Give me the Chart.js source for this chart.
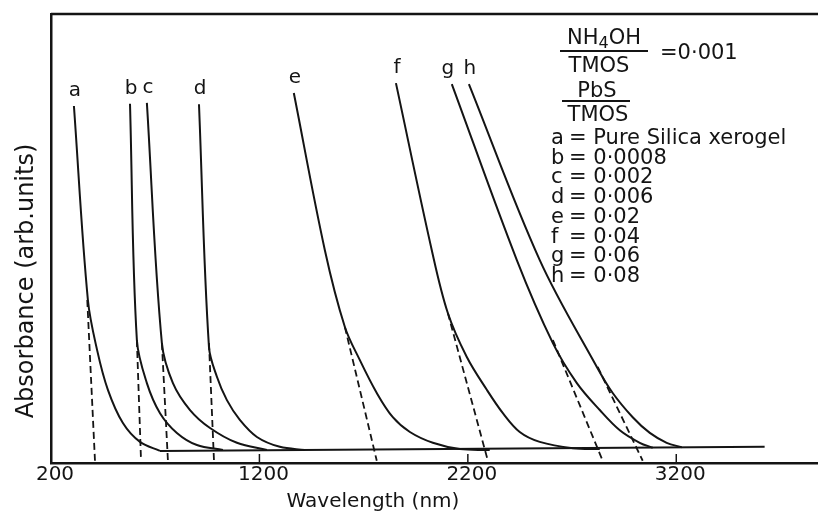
<!DOCTYPE html>
<html>
<head>
<meta charset="utf-8">
<title>Absorption edges of PbS doped silica xerogels</title>
<script src="https://cdn.jsdelivr.net/npm/chart.js@4.4.1/dist/chart.umd.min.js"></script>
<style>
  html, body { margin: 0; padding: 0; background: #fff; }
</style>
</head>
<body>
<canvas id="absChart" width="818" height="511"></canvas>
<script>
// absorption edges, each point is [wavelength nm, absorbance arb. units]
const curveNames = ['a', 'b', 'c', 'd', 'e', 'f', 'g', 'h'];
const pbsRatios = ['Pure Silica xerogel', '0·0008', '0·002', '0·006', '0·02', '0·04', '0·06', '0·08'];

const curveA = [[310, 79.5], [377, 36.3], [421, 25.2], [473, 16.3], [545, 8.9], [627, 4.7], [723, 2.7]];
const curveB = [[579, 80.0], [612, 27.4], [660, 17.8], [723, 11.1], [804, 6.7], [900, 4.0], [1025, 2.9]];
const curveC = [[660, 80.2], [732, 26.7], [785, 17.8], [867, 11.8], [963, 7.8], [1092, 4.5], [1236, 2.9]];
const curveD = [[910, 79.9], [958, 25.8], [996, 19.2], [1044, 14.0], [1106, 9.6], [1188, 5.8], [1298, 3.6], [1418, 2.9]];
const curveE = [[1365, 82.4], [1514, 47.4], [1610, 30.3], [1682, 22.9], [1763, 15.6], [1840, 10.2], [1922, 6.9], [2032, 4.5], [2162, 3.1], [2305, 2.9]];
const curveF = [[1855, 84.6], [2027, 47.4], [2104, 33.4], [2195, 23.6], [2291, 16.3], [2368, 11.1], [2449, 6.9], [2545, 4.7], [2704, 3.3], [2833, 3.1]];
const curveG = [[2123, 84.4], [2435, 45.2], [2608, 26.7], [2723, 17.8], [2833, 11.8], [2929, 7.3], [3025, 4.5], [3087, 3.4]];
const curveH = [[2205, 84.4], [2545, 45.2], [2819, 21.4], [2895, 15.6], [2991, 10.2], [3073, 6.7], [3154, 4.5], [3226, 3.5]];

// extrapolated straight part of each edge (dashed)
const tangentA = [[374, 36.3], [411, 0.5]];
const tangentB = [[612, 27.4], [632, 0.5]];
const tangentC = [[732, 26.7], [761, 0.5]];
const tangentD = [[958, 26.7], [982, 0.5]];
const tangentE = [[1610, 30.3], [1763, 0.5]];
const tangentF = [[2104, 33.4], [2296, 0.5]];
const tangentG = [[2608, 27.4], [2847, 0.5]];
const tangentH = [[2823, 21.4], [3039, 0.5]];

const baseLine = [[723, 2.7], [3624, 3.6]];
const xTicks = [200, 1200, 2200, 3200];

const curves = [curveA, curveB, curveC, curveD, curveE, curveF, curveG, curveH];
const tangents = [tangentA, tangentB, tangentC, tangentD, tangentE, tangentF, tangentG, tangentH];

const ink = '#141414';
const fontFam = '"DejaVu Sans", sans-serif';
const toXY = pts => pts.map(p => ({ x: p[0], y: p[1] }));

const datasets = [];
curves.forEach((pts, i) => {
  datasets.push({
    label: curveNames[i],
    data: toXY(pts),
    borderColor: ink,
    borderWidth: 2,
    tension: 0.35
  });
});
tangents.forEach((pts, i) => {
  datasets.push({
    label: curveNames[i] + ' edge',
    data: toXY(pts),
    borderColor: ink,
    borderWidth: 1.8,
    borderDash: [7, 4]
  });
});
datasets.push({ label: 'baseline', data: toXY(baseLine), borderColor: ink, borderWidth: 2 });

// chemical formula with a lowered digit, centred on cx
function drawFormula(ctx, parts, cx, by) {
  const big = `21px ${fontFam}`, small = `16px ${fontFam}`;
  let w = 0;
  parts.forEach(p => { ctx.font = p.sub ? small : big; w += ctx.measureText(p.t).width; });
  let px = cx - w / 2;
  ctx.textAlign = 'left';
  parts.forEach(p => {
    ctx.font = p.sub ? small : big;
    ctx.fillText(p.t, px, by + (p.sub ? 4 : 0));
    px += ctx.measureText(p.t).width;
  });
}

// frame top, inward ticks, letters, axis titles and the ratio key
const decor = {
  id: 'decor',
  afterDraw(chart) {
    const { ctx, chartArea: area, scales: { x, y } } = chart;
    ctx.save();
    ctx.strokeStyle = ink;
    ctx.fillStyle = ink;

    ctx.lineWidth = 2.5;
    ctx.beginPath();
    ctx.moveTo(area.left, area.top);
    ctx.lineTo(area.right, area.top);
    ctx.stroke();

    ctx.lineWidth = 1.5;
    xTicks.forEach(v => {
      const px = x.getPixelForValue(v);
      ctx.beginPath();
      ctx.moveTo(px, area.bottom);
      ctx.lineTo(px, area.bottom - 9);
      ctx.stroke();
    });

    ctx.font = `20px ${fontFam}`;
    ctx.textAlign = 'center';
    ctx.textBaseline = 'alphabetic';
    curves.forEach((pts, i) => {
      const nudge = curveNames[i] === 'g' ? -4 : 1;
      ctx.fillText(curveNames[i], x.getPixelForValue(pts[0][0]) + nudge, y.getPixelForValue(pts[0][1]) - 10);
    });

    // axis titles
    ctx.fillText('Wavelength (nm)', 373, 507);
    ctx.save();
    ctx.translate(33, 281);
    ctx.rotate(-Math.PI / 2);
    ctx.font = `24px ${fontFam}`;
    ctx.fillText('Absorbance (arb.units)', 0, 0);
    ctx.restore();

    // NH4OH / TMOS and PbS / TMOS fractions
    drawFormula(ctx, [{ t: 'NH' }, { t: '4', sub: true }, { t: 'OH' }], 604, 44);
    ctx.font = `21px ${fontFam}`;
    ctx.textAlign = 'center';
    ctx.fillText('TMOS', 599, 72);
    ctx.fillText('PbS', 597, 97);
    ctx.fillText('TMOS', 598, 121);
    ctx.lineWidth = 2;
    ctx.beginPath();
    ctx.moveTo(560, 51); ctx.lineTo(648, 51);
    ctx.moveTo(562, 101); ctx.lineTo(630, 101);
    ctx.stroke();
    ctx.textAlign = 'left';
    ctx.fillText('=0·001', 660, 59);

    pbsRatios.forEach((r, i) => {
      const ty = 144 + i * 19.7;
      ctx.fillText(curveNames[i], 551, ty);
      ctx.fillText('= ' + r, 569, ty);
    });
    ctx.restore();
  }
};

new Chart(document.getElementById('absChart'), {
  type: 'line',
  data: { datasets },
  options: {
    responsive: false,
    animation: false,
    devicePixelRatio: 1,
    layout: { padding: { left: 51, top: 14, right: 0, bottom: 24 } },
    elements: { point: { radius: 0 }, line: { fill: false } },
    plugins: { legend: { display: false }, tooltip: { enabled: false } },
    scales: {
      x: {
        type: 'linear',
        min: 200,
        max: 3880,
        grid: { display: false, drawTicks: false },
        border: { display: true, color: ink, width: 2.5 },
        afterBuildTicks: axis => { axis.ticks = xTicks.map(v => ({ value: v })); },
        ticks: {
          color: ink,
          font: { family: fontFam, size: 20 },
          padding: 0,
          labelOffset: 4,
          maxRotation: 0,
          autoSkip: false,
          callback: v => String(v)
        }
      },
      y: {
        min: 0,
        max: 100,
        grid: { display: false, drawTicks: false },
        ticks: { display: false },
        border: { display: true, color: ink, width: 2.5 }
      }
    }
  },
  plugins: [decor]
});
</script>
</body>
</html>
